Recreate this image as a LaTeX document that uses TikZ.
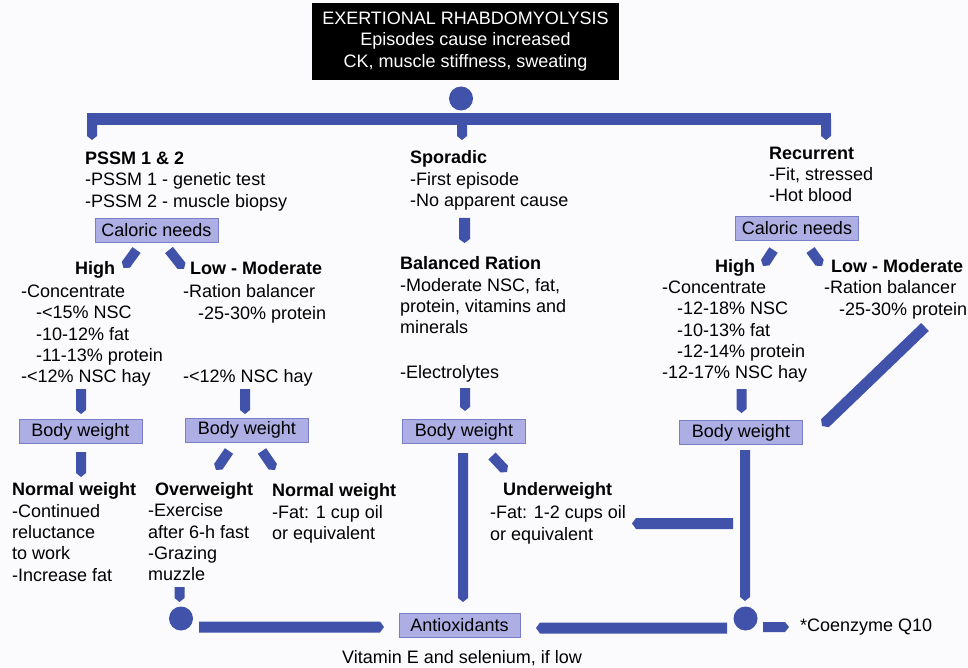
\documentclass[tikz,border=0pt]{standalone}
\usepackage{fontspec}
\setmainfont{Liberation Sans}
\usetikzlibrary{calc}
\definecolor{barc}{RGB}{64,82,170}
\definecolor{boxfill}{RGB}{172,174,228}
\definecolor{boxdraw}{RGB}{120,126,200}
\definecolor{bgc}{RGB}{251,251,253}
\newcommand{\myind}{\hspace*{15pt}}
\newcommand{\fbar}[3][10]{%
  \fill[barc] let \p1=(#2), \p2=(#3),
    \n1={atan2(\y2-\y1,\x2-\x1)}, \n2={veclen(\x2-\x1,\y2-\y1)} in
    [shift={(\p1)}, rotate=\n1]
    (0pt,{-#1/2*1pt}) -- ({\n2+0pt-4pt},{-#1/2*1pt}) -- ({\n2+0pt},0pt)
    -- ({\n2+0pt-4pt},{#1/2*1pt}) -- (0pt,{#1/2*1pt}) -- cycle;}
\begin{document}
\begin{tikzpicture}[x=1pt,y=-1pt,
  every node/.style={font=\fontsize{18}{21.4}\selectfont, inner sep=0pt},
  txt/.style={anchor=north west, align=left},
  bx/.style={draw=boxdraw, fill=boxfill, line width=0.8pt, minimum width=123pt, minimum height=24pt},
  dot/.style={circle, fill=barc, minimum size=24pt}]
\fill[bgc] (0,0) rectangle (968,668);
\useasboundingbox (0,0) rectangle (968,668);

% title
\node[fill=black, text=white, minimum width=307pt, minimum height=77pt, align=center] (title) at (465.5,41.5)
  {EXERTIONAL RHABDOMYOLYSIS\\Episodes cause increased\\CK, muscle stiffness, sweating};
\node[dot] (top) at (461,98.5) {};

% left column
\node[txt] (pssm) at (85,151.5) {\textbf{PSSM 1 \& 2}\\-PSSM 1 - genetic test\\-PSSM 2 - muscle biopsy};
\node[bx] (calL) at (156.5,230.5) {Caloric needs};
\node[txt] (highL) at (75,261.5) {\textbf{High}};
\node[txt] (lowL) at (190,261.5) {\textbf{Low - Moderate}};
\node[txt] (highLl) at (21,284.5) {-Concentrate\\\myind-<15\% NSC\\\myind-10-12\% fat\\\myind-11-13\% protein\\-<12\% NSC hay};
\node[txt] (lowLl) at (183,284.5) {-Ration balancer\\\myind-25-30\% protein};
\node[txt] (hayL) at (183,369.5) {-<12\% NSC hay};
\node[bx] (bwL) at (80.5,431.5) {Body weight};
\node[bx] (bwML) at (247,430) {Body weight};
\node[txt] (nwL) at (12,482.5) {\textbf{Normal weight}\\-Continued\\reluctance\\to work\\-Increase fat};
\node[txt] (ow) at (155,482.5) {\textbf{Overweight}};
\node[txt] (owl) at (148,503.5) {-Exercise\\after 6-h fast\\-Grazing\\muzzle};
\node[txt] (nwM) at (272,483.5) {\textbf{Normal weight}\\-Fat: 1 cup oil\\or equivalent};
\node[dot] (cL) at (181,618.5) {};
\node[bx, minimum width=121pt] (anti) at (459.5,625) {Antioxidants};
\node[anchor=north] (vit) at (462,650.5) {Vitamin E and selenium, if low};

% middle column
\node[txt] (spor) at (410,150.5) {\textbf{Sporadic}\\-First episode\\-No apparent cause};
\node[txt] (bal) at (400,256.5) {\textbf{Balanced Ration}\\-Moderate NSC, fat,\\protein, vitamins and\\minerals};
\node[txt] (elec) at (400,365.5) {-Electrolytes};
\node[bx] (bwM) at (464,431.5) {Body weight};
\node[txt] (uw) at (503,482.5) {\textbf{Underweight}};
\node[txt] (uwl) at (490,505.5) {-Fat: 1-2 cups oil\\or equivalent};

% right column
\node[txt] (rec) at (769,146.5) {\textbf{Recurrent}\\-Fit, stressed\\-Hot blood};
\node[bx] (calR) at (797,228) {Caloric needs};
\node[txt] (highR) at (715,259.5) {\textbf{High}};
\node[txt] (lowR) at (831,259.5) {\textbf{Low - Moderate}};
\node[txt] (highRl) at (662,280.5) {-Concentrate\\\myind-12-18\% NSC\\\myind-10-13\% fat\\\myind-12-14\% protein\\-12-17\% NSC hay};
\node[txt] (lowRl) at (824,280.5) {-Ration balancer\\\myind-25-30\% protein};
\node[bx] (bwR) at (741,432.5) {Body weight};
\node[dot] (cR) at (745.5,618.5) {};
\node[txt] (coq) at (800,618.5) {*Coenzyme Q10};

% connector end points
\coordinate (hl) at (87,119);
\coordinate (hr) at (831,119);
\coordinate (d1s) at (92,119);   \coordinate (d1e) at (92,140);
\coordinate (d2s) at (462,119);  \coordinate (d2e) at (462,140);
\coordinate (d3s) at (826,119);  \coordinate (d3e) at (826,140);
\coordinate (lhs) at (136.5,250); \coordinate (lhe) at (123.5,268);
\coordinate (lls) at (169,250);   \coordinate (lle) at (184,269);
\coordinate (rhs) at (773.5,250); \coordinate (rhe) at (763,266);
\coordinate (rls) at (810.5,250); \coordinate (rle) at (822,266);
\coordinate (lh2s) at (81,389);   \coordinate (lh2e) at (81,414);
\coordinate (ll2s) at (245,389);  \coordinate (ll2e) at (245,414);
\coordinate (bwLs) at (81,452);   \coordinate (bwLe) at (81,477);
\coordinate (mlas) at (229,451);  \coordinate (mlae) at (216,470);
\coordinate (mlbs) at (262,451);  \coordinate (mlbe) at (275,470);
\coordinate (muzs) at (179.5,587); \coordinate (muze) at (179.5,602);
\coordinate (cLs) at (199,627);   \coordinate (cLe) at (384,627);
\coordinate (sps) at (464.5,218); \coordinate (spe) at (464.5,243);
\coordinate (els) at (465,388);   \coordinate (ele) at (465,411);
\coordinate (bwMs) at (463,453);  \coordinate (bwMe) at (463,602);
\coordinate (mus) at (492,456);   \coordinate (mue) at (507,472);
\coordinate (rh2s) at (741.5,389); \coordinate (rh2e) at (741.5,413);
\coordinate (dgs) at (925,327);   \coordinate (dge) at (822,426);
\coordinate (bwRs) at (745,450);  \coordinate (bwRe) at (745,601);
\coordinate (uws) at (733,523.5); \coordinate (uwe) at (632,523.5);
\coordinate (cRs) at (727,628);   \coordinate (cRe) at (536,628);
\coordinate (cqs) at (763,627);   \coordinate (cqe) at (789,627);

% connectors
\draw[barc, line width=12pt] (hl) -- (hr);
\fbar{d1s}{d1e} \fbar{d2s}{d2e} \fbar{d3s}{d3e}
\fbar{lhs}{lhe} \fbar{lls}{lle} \fbar{rhs}{rhe} \fbar{rls}{rle}
\fbar{lh2s}{lh2e} \fbar{ll2s}{ll2e} \fbar{bwLs}{bwLe}
\fbar{mlas}{mlae} \fbar{mlbs}{mlbe} \fbar{muzs}{muze}
\fbar[11]{cLs}{cLe}
\fbar[11]{sps}{spe} \fbar{els}{ele} \fbar{bwMs}{bwMe} \fbar{mus}{mue}
\fbar{rh2s}{rh2e} \fbar[11]{dgs}{dge} \fbar{bwRs}{bwRe}
\fbar[11]{uws}{uwe} \fbar[11]{cRs}{cRe} \fbar{cqs}{cqe}
\end{tikzpicture}
\end{document}
